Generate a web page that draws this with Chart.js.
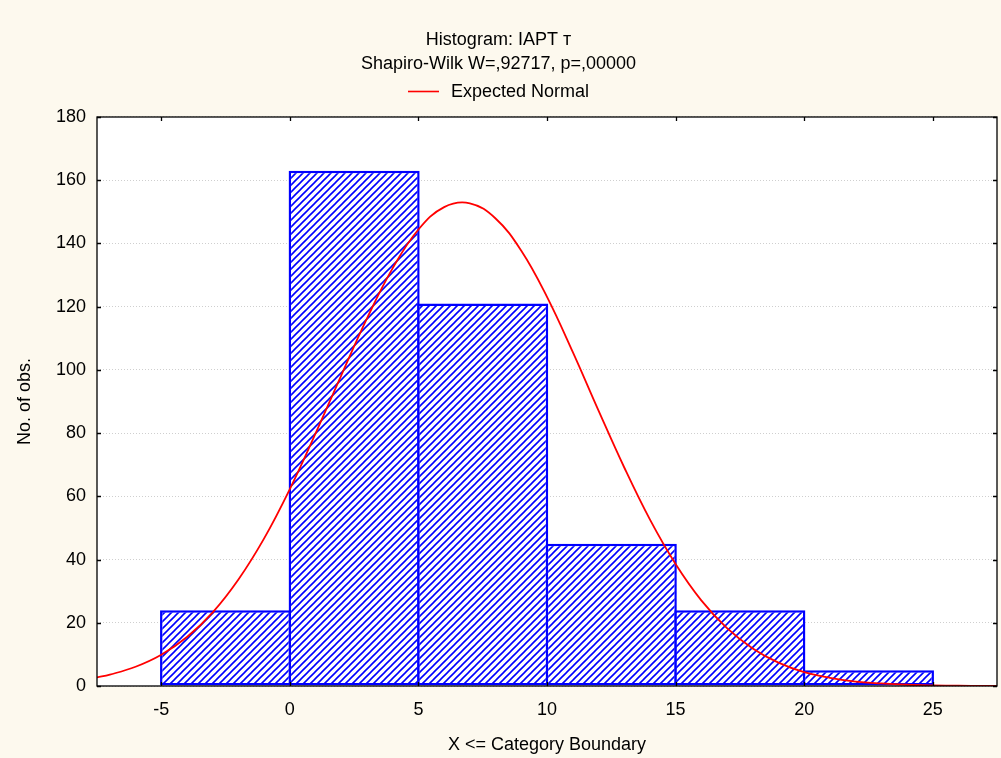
<!DOCTYPE html>
<html>
<head>
<meta charset="utf-8">
<script src="https://cdn.jsdelivr.net/npm/chart.js@4.4.1/dist/chart.umd.min.js"></script>
<style>
  html, body { margin: 0; padding: 0; background: #fdf9ee; }
  #wrap { width: 1001px; height: 758px; }
</style>
</head>
<body>
<div id="wrap"><canvas id="chart" width="1001" height="758"></canvas></div>
<script>
/*=================================
      data
=================================*/
var binStart = [-5, 0, 5, 10, 15, 20];
var binEnd = [0, 5, 10, 15, 20, 25];
var counts = [24, 163, 121, 45, 24, 5];

var curveX = [-7.5, -7, -6, -5, -4, -3, -2, -1, 0, 1, 2, 3, 4, 5, 6, 7, 8, 9, 10,
  11, 12, 13, 14, 15, 16, 17, 18, 19, 20, 21, 22, 23, 24, 25, 26, 27, 27.5];
var curveY = [2.7, 3.6, 6.1, 9.9, 15.5, 23.3, 33.7, 46.7, 62.3, 79.9, 98.3, 116.3, 132.2, 144.4, 151.5, 152.7, 147.9, 137.7, 123.1,
  105.7, 87.2, 69.2, 52.7, 38.6, 27.1, 18.3, 11.9, 7.4, 4.4, 2.6, 1.4, 0.8, 0.4, 0.2, 0.1, 0.05, 0.03];

var xTicks = [-5, 0, 5, 10, 15, 20, 25];
var yTicks = [0, 20, 40, 60, 80, 100, 120, 140, 160, 180];

var legendText = "Expected Normal";

/*=================================
      hatch pattern
=================================*/
function makeHatch() {
  var s = 7;
  var c = document.createElement("canvas");
  c.width = s;
  c.height = s;
  var g = c.getContext("2d");
  g.fillStyle = "#fff";
  g.fillRect(0, 0, s, s);
  g.strokeStyle = "#0000ff";
  g.lineWidth = 1.6;
  g.beginPath();
  g.moveTo(-1, s + 1);
  g.lineTo(s + 1, -1);
  g.moveTo(-1, 1);
  g.lineTo(1, -1);
  g.moveTo(s - 1, s + 1);
  g.lineTo(s + 1, s - 1);
  g.stroke();
  return g.createPattern(c, "repeat");
}

var font = { family: "'Liberation Sans', Arial, sans-serif", size: 18 };

/*=================================
   frame, background, inner ticks, legend
=================================*/
var frame = {
  id: "frame",
  beforeDraw(chart) {
    var ctx = chart.ctx, a = chart.chartArea;
    ctx.save();
    ctx.fillStyle = "#fdf9ee";
    ctx.fillRect(0, 0, chart.width, chart.height);
    ctx.fillStyle = "#fff";
    ctx.fillRect(a.left, a.top, a.right - a.left, a.bottom - a.top);
    ctx.restore();
  },
  afterDraw(chart) {
    var ctx = chart.ctx, a = chart.chartArea;
    var xs = chart.scales.x, ys = chart.scales.y;
    var t = 4;
    ctx.save();
    ctx.strokeStyle = "#000";
    ctx.lineWidth = 1.3;
    ctx.strokeRect(a.left, a.top, a.right - a.left, a.bottom - a.top);
    ctx.beginPath();
    yTicks.forEach(function (v) {
      var py = Math.round(ys.getPixelForValue(v)) + 0.5;
      ctx.moveTo(a.left, py);
      ctx.lineTo(a.left + t, py);
      ctx.moveTo(a.right, py);
      ctx.lineTo(a.right - t, py);
    });
    xTicks.forEach(function (v) {
      var px = Math.round(xs.getPixelForValue(v)) + 0.5;
      ctx.moveTo(px, a.top);
      ctx.lineTo(px, a.top + t);
      ctx.moveTo(px, a.bottom);
      ctx.lineTo(px, a.bottom - t);
    });
    ctx.stroke();

    // legend: red line sample + label, centred above the plot
    ctx.font = font.size + "px " + font.family;
    var tw = ctx.measureText(legendText).width;
    var total = 31 + 12 + tw;
    var x0 = Math.round(chart.width / 2 - total / 2) - 2;
    var ly = 91;
    ctx.strokeStyle = "#ff0000";
    ctx.lineWidth = 1.6;
    ctx.beginPath();
    ctx.moveTo(x0, ly + 0.5);
    ctx.lineTo(x0 + 31, ly + 0.5);
    ctx.stroke();
    ctx.fillStyle = "#000";
    ctx.textBaseline = "middle";
    ctx.textAlign = "left";
    ctx.fillText(legendText, x0 + 43, ly + 1.5);
    ctx.restore();
  },
};

var barData = counts.map(function (c, i) {
  return { x: (binStart[i] + binEnd[i]) / 2, y: c };
});
var lineData = curveX.map(function (x, i) {
  return { x: x, y: curveY[i] };
});

new Chart("chart", {
  type: "bar",
  plugins: [frame],
  data: {
    datasets: [
      {
        type: "bar",
        label: "Histogram",
        data: barData,
        backgroundColor: makeHatch(),
        borderColor: "#0000ff",
        borderWidth: 2.5,
        borderSkipped: false,
        barPercentage: 1.0194,
        categoryPercentage: 1,
        order: 2,
      },
      {
        type: "line",
        label: legendText,
        data: lineData,
        borderColor: "#ff0000",
        backgroundColor: "#ff0000",
        borderWidth: 1.8,
        pointRadius: 0,
        tension: 0.4,
        fill: false,
        order: 1,
      },
    ],
  },
  options: {
    responsive: false,
    animation: false,
    layout: { padding: { left: 0, right: 4, top: 0, bottom: 0 } },
    scales: {
      x: {
        type: "linear",
        min: -7.5,
        max: 27.5,
        offset: false,
        afterBuildTicks: function (scale) {
          scale.ticks = xTicks.map(function (v) { return { value: v }; });
        },
        afterFit: function (scale) { scale.height = 72; },
        grid: { display: false, drawTicks: false },
        border: { display: false },
        ticks: { color: "#000", font: font, padding: 13, maxRotation: 0 },
        title: { display: true, text: "X <= Category Boundary", color: "#000", font: font, padding: { top: 2, bottom: 2 } },
      },
      y: {
        min: 0,
        max: 180,
        afterBuildTicks: function (scale) {
          scale.ticks = yTicks.map(function (v) { return { value: v }; });
        },
        afterFit: function (scale) { scale.width = 97; },
        grid: { color: "#cfcfcf", drawTicks: false, lineWidth: 1 },
        border: { display: false, dash: [1, 2] },
        ticks: { color: "#000", font: font, padding: 11 },
        title: { display: true, text: "No. of obs.", color: "#000", font: font, padding: { top: 14, bottom: 14 } },
      },
    },
    plugins: {
      title: {
        display: true,
        text: "Histogram: IAPT т",
        color: "#000",
        font: { family: font.family, size: 18, weight: "normal" },
        padding: { top: 29, bottom: 2.5 },
      },
      subtitle: {
        display: true,
        text: "Shapiro-Wilk W=,92717, p=,00000",
        color: "#000",
        font: { family: font.family, size: 18, weight: "normal" },
        padding: { top: 0, bottom: 42.3 },
      },
      legend: { display: false },
      tooltip: { enabled: false },
    },
  },
});
</script>
</body>
</html>
